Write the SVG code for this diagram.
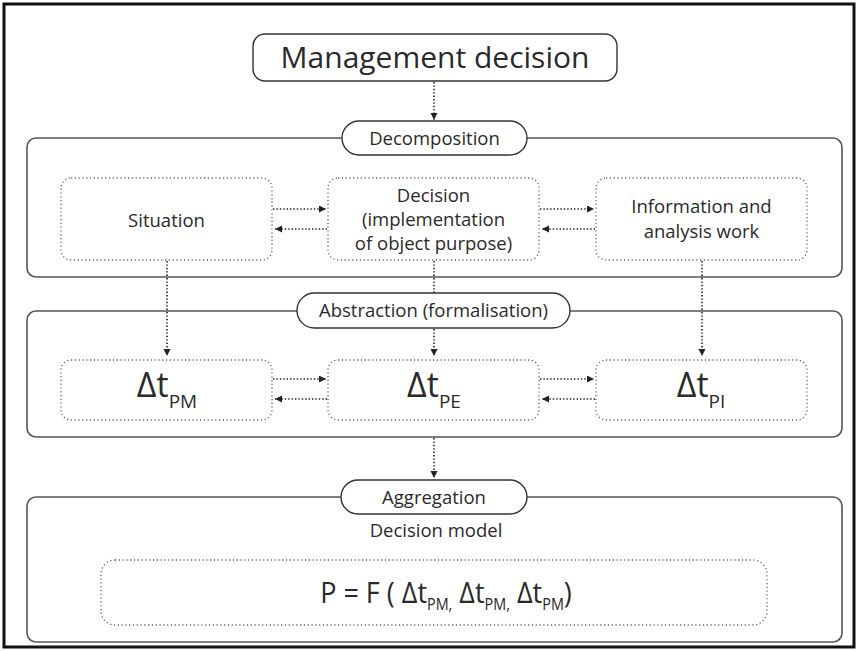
<svg xmlns="http://www.w3.org/2000/svg" width="860" height="651" viewBox="0 0 860 651">
<defs>
<marker id="ah" markerUnits="userSpaceOnUse" markerWidth="8" markerHeight="8" refX="7" refY="3.5" orient="auto">
<path d="M0,0 L7,3.5 L0,7 z" fill="#222"/>
</marker>
<style>
.frame{fill:#fff;stroke:#555;stroke-width:1.6}
.pill{fill:#fff;stroke:#333;stroke-width:1.4}
.node{fill:#fff;stroke:#666;stroke-width:1.3;stroke-dasharray:1.2 2.6}
.conn{fill:none;stroke:#222;stroke-width:1.6;stroke-dasharray:1.4 2;marker-end:url(#ah)}
.t{font-family:"Open Sans","Noto Sans",sans-serif;fill:#2a2a2a;text-anchor:middle}
.s{font-size:18.5px}
.big{font-size:30px}
.dt{font-size:34px}
</style>
</defs>
<rect x="4" y="4" width="850" height="643" fill="#fff" stroke="#111" stroke-width="3"/>

<g id="decomposition-frame"><rect class="frame" x="27" y="138" width="815" height="139" rx="9"/></g>
<g id="abstraction-frame"><rect class="frame" x="27" y="311" width="815" height="126" rx="9"/></g>
<g id="aggregation-frame"><rect class="frame" x="27" y="497" width="815" height="145" rx="9"/>
<text class="t s" x="436" y="537">Decision model</text></g>

<g id="connectors">
<line class="conn" x1="434" y1="82" x2="434" y2="120"/>
<line class="conn" x1="273" y1="209" x2="326" y2="209"/>
<line class="conn" x1="327" y1="229" x2="275" y2="229"/>
<line class="conn" x1="540" y1="209" x2="594" y2="209"/>
<line class="conn" x1="595" y1="229" x2="542" y2="229"/>
<line class="conn" x1="167" y1="261" x2="167" y2="356"/>
<line class="conn" x1="434" y1="261" x2="434" y2="356"/>
<line class="conn" x1="702" y1="261" x2="702" y2="356"/>
<line class="conn" x1="273" y1="379" x2="326" y2="379"/>
<line class="conn" x1="327" y1="399" x2="275" y2="399"/>
<line class="conn" x1="540" y1="379" x2="594" y2="379"/>
<line class="conn" x1="595" y1="399" x2="542" y2="399"/>
<line class="conn" x1="434" y1="438" x2="434" y2="478"/>
</g>

<g id="management-decision"><rect class="pill" x="253" y="34" width="364" height="47" rx="12"/>
<text class="t big" x="435" y="68">Management decision</text></g>

<g id="decomposition"><rect class="pill" x="342" y="121" width="185" height="34" rx="17"/>
<text class="t s" x="434.5" y="144.5">Decomposition</text></g>

<g id="situation"><rect class="node" x="61" y="178" width="211" height="82" rx="10"/>
<text class="t s" x="166.5" y="227">Situation</text></g>

<g id="decision"><rect class="node" x="328" y="178" width="211" height="82" rx="10"/>
<text class="t s" x="433.5" y="202">Decision</text>
<text class="t s" x="433.5" y="226">(implementation</text>
<text class="t s" x="433.5" y="250">of object purpose)</text></g>

<g id="information"><rect class="node" x="596" y="178" width="211" height="82" rx="10"/>
<text class="t s" x="701.5" y="213">Information and</text>
<text class="t s" x="701.5" y="238">analysis work</text></g>

<g id="abstraction"><rect class="pill" x="297" y="293" width="273" height="35" rx="17.5"/>
<text class="t s" x="433.5" y="317">Abstraction (formalisation)</text></g>

<g id="dt-pm"><rect class="node" x="61" y="360" width="211" height="60" rx="10"/>
<text class="t dt" x="167" y="397">Δt<tspan font-size="19" dy="11">PM</tspan></text></g>

<g id="dt-pe"><rect class="node" x="328" y="360" width="211" height="60" rx="10"/>
<text class="t dt" x="434" y="397">Δt<tspan font-size="19" dy="11">PE</tspan></text></g>

<g id="dt-pi"><rect class="node" x="596" y="360" width="211" height="60" rx="10"/>
<text class="t dt" x="701" y="397">Δt<tspan font-size="19" dy="11">PI</tspan></text></g>

<g id="aggregation"><rect class="pill" x="341" y="480" width="186" height="34" rx="17"/>
<text class="t s" x="434" y="503.5">Aggregation</text></g>

<g id="decision-model"><rect class="node" x="101" y="560" width="666" height="65" rx="14"/>
<text class="t big" transform="translate(446,603) scale(0.9,1)" x="0" y="0">P = F ( Δt<tspan font-size="16" dy="7">PM</tspan><tspan font-size="16">,</tspan><tspan dy="-7"> Δt</tspan><tspan font-size="16" dy="7">PM</tspan><tspan font-size="16">,</tspan><tspan dy="-7"> Δt</tspan><tspan font-size="16" dy="7">PM</tspan><tspan dy="-7">)</tspan></text></g>
</svg>
